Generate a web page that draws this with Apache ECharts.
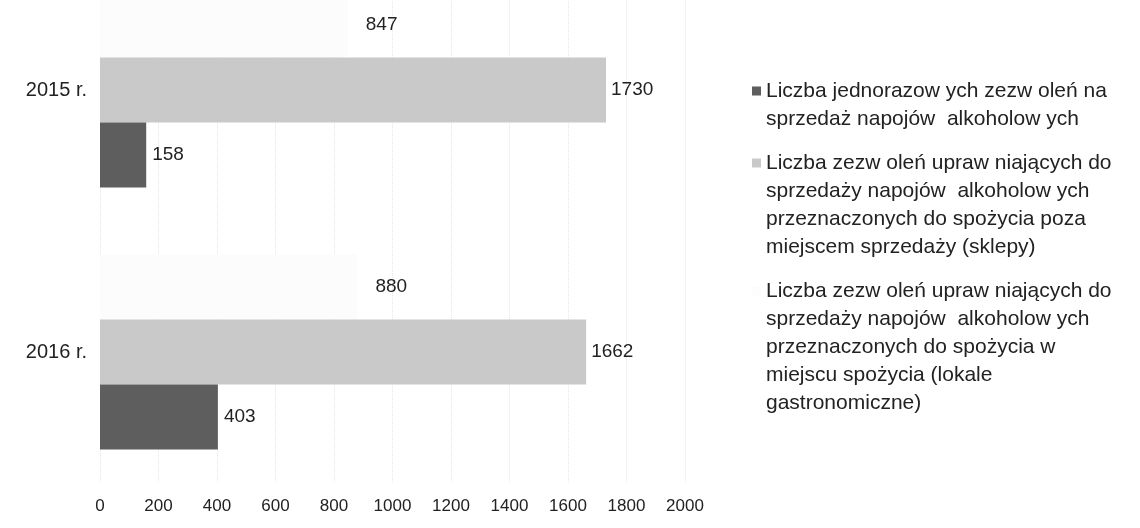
<!DOCTYPE html>
<html>
<head>
<meta charset="utf-8">
<script src="https://cdn.jsdelivr.net/npm/echarts@6/dist/echarts.min.js"></script>
<style>
  html, body { margin: 0; padding: 0; background: #fff; }
  #chart { width: 1140px; height: 528px; }
</style>
</head>
<body>
<div id="chart"></div>
<script>
    // dane z wykresu
    const categories = ['2015 r.', '2016 r.'];
    const jednorazowe = [158, 403];
    const sklepy = [1730, 1662];
    const lokale = [847, 880];
    const xTicks = [0, 200, 400, 600, 800, 1000, 1200, 1400, 1600, 1800, 2000];

    const names = [
        'Liczba jednorazow ych zezw oleń na\nsprzedaż napojów  alkoholow ych',
        'Liczba zezw oleń upraw niających do\nsprzedaży napojów  alkoholow ych\nprzeznaczonych do spożycia poza\nmiejscem sprzedaży (sklepy)',
        'Liczba zezw oleń upraw niających do\nsprzedaży napojów  alkoholow ych\nprzeznaczonych do spożycia w\nmiejscu spożycia (lokale\ngastronomiczne)'
    ];
    const colors = ['#5e5e5e', '#c9c9c9', '#fcfcfc'];

    const font = 'Liberation Sans, Arial, sans-serif';
    const lh = 28;

    // osobna legenda na serie: ikonka przy pierwszej linii tekstu
    function legendFor(i, top) {
        const n = names[i].split('\n').length;
        const h = n * lh;
        const a = lh / 2 - 4.5, b = lh / 2 + 4.5;
        const icon = 'path://M0,0L0.01,0L0,0.01Z' +
            'M0,' + a + 'L9,' + a + 'L9,' + b + 'L0,' + b + 'Z' +
            'M9,' + h + 'L8.99,' + h + 'L9,' + (h - 0.01) + 'Z';
        return {
            data: [{ name: names[i], icon: icon }],
            orient: 'vertical',
            left: 752,
            top: top,
            padding: 0,
            itemWidth: 9,
            itemHeight: h,
            itemGap: 0,
            selectedMode: false,
            textStyle: {
                fontFamily: font,
                fontSize: 21,
                color: '#222',
                lineHeight: lh
            }
        };
    }

    const chart = echarts.init(document.getElementById('chart'));
    chart.setOption({
        animation: false,
        color: colors,
        textStyle: { fontFamily: font },
        legend: [
            legendFor(0, 77),
            legendFor(1, 149),
            legendFor(2, 277)
        ],
        grid: {
            left: 100,
            width: 585,
            top: -41,
            height: 524,
            outerBoundsMode: 'none'
        },
        xAxis: {
            type: 'value',
            min: 0,
            max: 2000,
            interval: 200,
            axisLine: { show: false },
            axisTick: { show: false },
            axisLabel: {
                fontSize: 17,
                color: '#222',
                margin: 15,
                formatter: v => xTicks.indexOf(v) >= 0 ? String(v) : ''
            },
            splitLine: {
                lineStyle: { color: '#e6e6e6', type: 'dotted' }
            }
        },
        yAxis: {
            type: 'category',
            data: categories,
            inverse: true,
            axisLine: { show: false },
            axisTick: { show: false },
            axisLabel: { fontSize: 20, color: '#222', margin: 13 }
        },
        series: [
            {
                name: names[2],
                type: 'bar',
                data: lokale,
                barWidth: 65,
                barGap: '0%',
                itemStyle: { color: colors[2] },
                label: { show: true, position: 'right', distance: 18, fontSize: 19, color: '#222' }
            },
            {
                name: names[1],
                type: 'bar',
                data: sklepy,
                barWidth: 65,
                barGap: '0%',
                itemStyle: { color: colors[1] },
                label: { show: true, position: 'right', distance: 5, fontSize: 19, color: '#222' }
            },
            {
                name: names[0],
                type: 'bar',
                data: jednorazowe,
                barWidth: 65,
                barGap: '0%',
                itemStyle: { color: colors[0] },
                label: { show: true, position: 'right', distance: 6, fontSize: 19, color: '#222' }
            }
        ]
    });
</script>
</body>
</html>
